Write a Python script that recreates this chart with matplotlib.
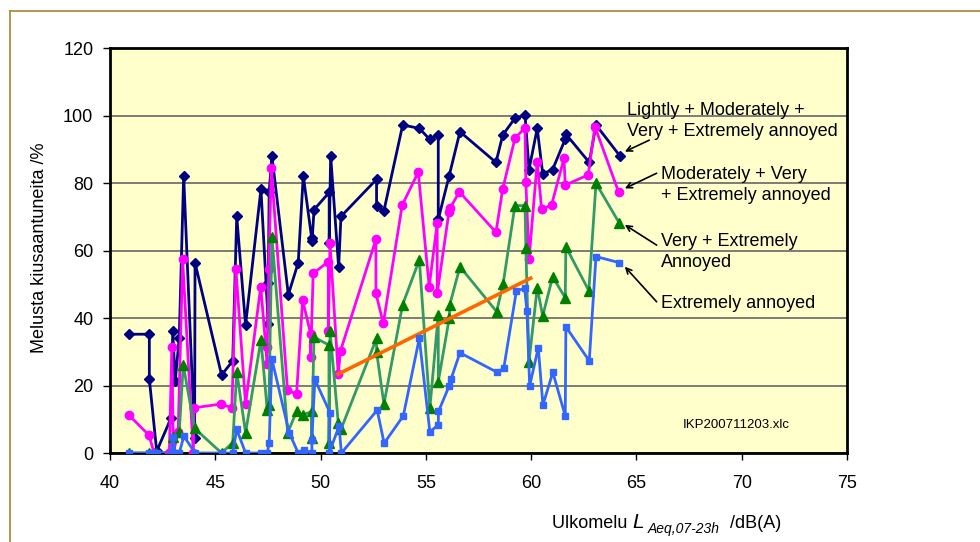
import matplotlib
matplotlib.use("Agg")
import matplotlib.pyplot as plt
from matplotlib.lines import Line2D

plt.rcParams['font.family'] = ['Liberation Sans', 'DejaVu Sans']

# Lightly + Moderately + Very + Extremely annoyed
x_lmve = [40.92, 41.87, 41.87, 42.22, 42.91, 42.98, 43.10, 43.29, 43.50, 44.02, 44.04,
          45.30, 45.83, 46.02, 46.44, 47.17, 47.52, 47.52, 47.56, 47.69, 48.47, 48.94,
          49.18, 49.58, 49.60, 49.69, 50.41, 50.41, 50.48, 50.86, 50.97, 52.66, 52.66,
          53.01, 53.90, 54.69, 55.19, 55.59, 55.59, 56.11, 56.62, 58.33, 58.65, 59.23,
          59.71, 59.90, 60.29, 60.55, 61.02, 61.62, 61.65, 62.76, 63.08, 64.22]
y_lmve = [35.2, 35.2, 21.9, 0.5, 10.5, 36.1, 21.3, 34.2, 82.2, 4.5, 56.4,
          23.1, 27.3, 70.1, 37.9, 78.2, 38.1, 50.5, 77.2, 88.1, 46.9, 56.4,
          82.2, 63.6, 62.9, 72.1, 77.2, 62.1, 88.1, 55.0, 70.1, 81.1, 73.3,
          71.8, 97.2, 96.2, 92.9, 94.2, 69.2, 82.2, 95.2, 86.1, 94.2, 99.2,
          100.1, 84.0, 96.2, 82.7, 84.0, 93.0, 94.5, 86.1, 97.2, 88.0]

# Moderately + Very + Extremely annoyed
x_mve = [40.89, 41.85, 42.10, 42.82, 42.94, 43.01, 43.24, 43.45, 43.96, 43.99, 45.27,
         45.79, 45.98, 46.44, 47.16, 47.47, 47.47, 47.54, 47.66, 48.43, 48.86, 49.15,
         49.53, 49.53, 49.65, 50.37, 50.37, 50.45, 50.84, 50.95, 52.63, 52.63, 52.98,
         53.88, 54.64, 55.16, 55.54, 55.54, 56.10, 56.15, 56.59, 58.33, 58.65, 59.23,
         59.71, 59.75, 59.90, 60.29, 60.50, 60.97, 61.56, 61.62, 62.71, 63.03, 64.15]
y_mve = [11.3, 5.3, 0, 0, 31.5, 0, 6.3, 57.4, 0, 13.4, 14.5,
         13.4, 54.5, 14.5, 49.3, 26.3, 31.5, 54.5, 84.5, 18.7, 17.4, 45.3,
         35.3, 28.3, 53.2, 56.7, 36.2, 62.1, 23.4, 30.3, 63.3, 47.3, 38.4,
         73.5, 83.2, 49.3, 68.2, 47.3, 71.5, 72.5, 77.4, 65.4, 78.2, 93.2,
         96.4, 80.2, 57.4, 86.3, 72.2, 73.5, 87.3, 79.4, 82.4, 96.7, 77.4]

# Very + Extremely annoyed
x_ve = [40.92, 41.87, 42.20, 42.94, 42.98, 43.29, 43.48, 44.02, 45.30, 45.83, 46.02,
        46.44, 47.17, 47.47, 47.55, 47.69, 48.44, 48.86, 49.15, 49.58, 49.58, 49.69,
        50.40, 50.40, 50.45, 50.84, 50.97, 52.66, 52.66, 53.01, 53.90, 54.69, 55.19,
        55.59, 55.59, 56.11, 56.14, 56.62, 58.36, 58.67, 59.23, 59.71, 59.75, 59.90,
        60.29, 60.55, 61.02, 61.62, 61.65, 62.74, 63.08, 64.19]
y_ve = [0, 0, 0, 0, 4.8, 6.3, 26.1, 7.3, 0, 3.1, 24.1,
        6.0, 33.5, 12.7, 14.2, 64.1, 6.0, 12.3, 11.3, 12.3, 4.3, 34.3,
        32.0, 2.9, 36.2, 9.0, 7.0, 34.0, 30.0, 14.5, 44.0, 57.2, 13.2,
        40.9, 21.1, 39.9, 44.0, 55.2, 41.9, 50.1, 73.3, 73.3, 60.6, 27.1,
        49.0, 40.6, 52.2, 46.0, 61.1, 48.1, 79.9, 68.1]

# Extremely annoyed
x_e = [40.92, 41.87, 42.10, 42.22, 42.94, 42.98, 43.10, 43.29, 43.51, 44.04, 45.30,
       45.83, 46.02, 46.44, 47.17, 47.47, 47.56, 47.69, 48.51, 48.94, 49.21, 49.59,
       49.59, 49.73, 50.45, 50.41, 50.88, 50.99, 52.69, 53.02, 53.93, 54.69, 55.19,
       55.59, 55.60, 56.11, 56.19, 56.62, 58.39, 58.70, 59.30, 59.69, 59.80, 59.93,
       60.34, 60.56, 61.03, 61.62, 61.65, 62.76, 63.08, 64.19]
y_e = [0, 0, 0, 0, 0, 4.8, 0, 0, 5.0, 0, 0,
       0, 7.0, 0, 0, 0, 2.9, 27.8, 6.0, 0, 0.9, 0,
       4.0, 21.8, 11.9, 0, 8.0, 0, 12.7, 2.9, 11.0, 34.0, 6.3,
       8.3, 12.3, 19.9, 21.8, 29.7, 23.9, 25.1, 48.0, 48.8, 42.1, 19.9,
       31.2, 14.2, 23.9, 11.0, 37.4, 27.3, 58.2, 56.4]

# trend line
x_trend = [50.84, 59.98]
y_trend = [23.4, 51.8]

fig = plt.figure(figsize=(9.8, 5.42), dpi=100)
ax = fig.add_axes([0.1122, 0.1642, 0.7521, 0.7472])
ax.set_facecolor('#FFFFCC')

ax.plot(x_lmve, y_lmve, color='#000080', lw=2, marker='D', ms=5.5, zorder=3)
ax.plot(x_mve, y_mve, color='#FF00FF', lw=2, marker='o', ms=6, zorder=3)
ax.plot(x_ve, y_ve, color='#339966', lw=2, marker='^', ms=7,
        mfc='#008000', mec='#008000', zorder=3)
ax.plot(x_trend, y_trend, color='#FF6600', lw=2.6, zorder=3)
ax.plot(x_e, y_e, color='#3366FF', lw=2, marker='s', ms=5, zorder=3)

ax.set_xlim(40, 75)
ax.set_ylim(0, 120)
ax.set_xticks(range(40, 76, 5))
ax.set_yticks(range(0, 121, 20))
ax.grid(axis='y', color='#666666', lw=1.2)
ax.set_axisbelow(True)
ax.tick_params(axis='both', direction='out', length=5, width=1, labelsize=13)
ax.tick_params(axis='y', pad=7)
ax.tick_params(axis='x', pad=11)
for sp in ax.spines.values():
    sp.set_linewidth(2)
    sp.set_color('black')

# labels next to the series ends
lab_kw = dict(fontsize=13, ha='left', va='center', linespacing=1.3)
ax.text(64.56, 98.5, 'Lightly + Moderately +\nVery + Extremely annoyed', **lab_kw)
ax.text(66.15, 79.3, 'Moderately + Very\n+ Extremely annoyed', **lab_kw)
ax.text(66.15, 59.6, 'Very + Extremely\nAnnoyed', **lab_kw)
ax.text(66.15, 44.4, 'Extremely annoyed', **lab_kw)

arr = dict(arrowstyle='->', color='black', lw=1.2, shrinkA=0, shrinkB=0)
ax.annotate('', xy=(64.45, 89.3), xytext=(65.61, 92.7), arrowprops=arr)
ax.annotate('', xy=(64.45, 78.4), xytext=(65.96, 82.9), arrowprops=arr)
ax.annotate('', xy=(64.45, 67.6), xytext=(65.96, 61.6), arrowprops=arr)
ax.annotate('', xy=(64.45, 55.2), xytext=(65.96, 44.8), arrowprops=arr)

ax.text(67.19, 8.3, 'IKP200711203.xlc', fontsize=9.5, ha='left', va='center')

# axis titles
fig.text(40 / 980, 1 - 248 / 542, 'Melusta kiusaantuneita /%', rotation=90,
         fontsize=13, ha='center', va='center')
t1 = fig.text(552 / 980, 1 - 528 / 542, 'Ulkomelu ', fontsize=13, ha='left', va='baseline')
t2 = ax.annotate('L', xy=(1, 0), xycoords=t1, fontsize=15, style='italic',
                 ha='left', va='bottom', annotation_clip=False)
t3 = ax.annotate('Aeq,07-23h', xy=(1, 0), xycoords=t2, xytext=(3, -3),
                 textcoords='offset points', fontsize=10, style='italic',
                 ha='left', va='bottom', annotation_clip=False)
ax.annotate('  /dB(A)', xy=(1, 0), xycoords=(t3, t1), fontsize=13,
            ha='left', va='bottom', annotation_clip=False)

# outer chart border
gold = '#B08D3A'
fig.add_artist(Line2D([9.5 / 980, 9.5 / 980], [0, 1 - 11 / 542], color=gold, lw=1.3,
                      transform=fig.transFigure))
fig.add_artist(Line2D([9.5 / 980, 1], [1 - 11 / 542, 1 - 11 / 542], color=gold, lw=1.3,
                      transform=fig.transFigure))

fig.savefig('out.png', dpi=100)
